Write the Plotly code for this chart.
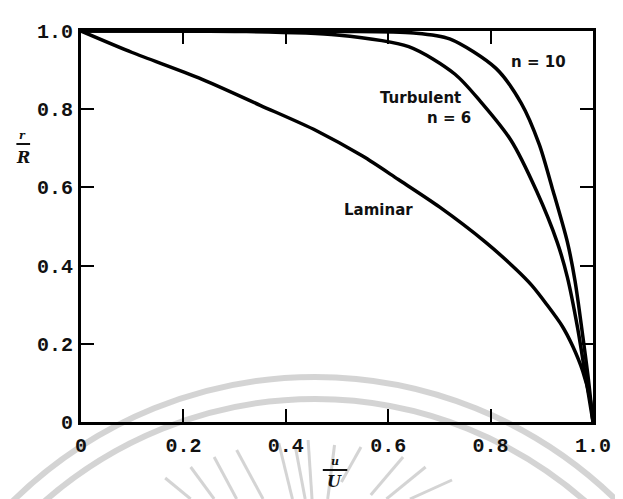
import plotly.graph_objects as go

# ---- data (u/U, r/R) ----
lam_u = [0.0, 0.1, 0.23, 0.35, 0.46, 0.55, 0.62, 0.70, 0.79, 0.85, 0.88, 0.91, 0.94, 0.96, 0.98, 0.995, 1.0]
lam_r = [1.0, 0.945, 0.88, 0.81, 0.745, 0.68, 0.62, 0.55, 0.46, 0.39, 0.35, 0.30, 0.245, 0.195, 0.13, 0.055, 0.0]

n6_u = [0.0, 0.3, 0.5, 0.64, 0.73, 0.78, 0.84, 0.89, 0.93, 0.95, 0.97, 0.985, 1.0]
n6_r = [1.0, 0.999, 0.99, 0.96, 0.89, 0.82, 0.72, 0.59, 0.46, 0.37, 0.24, 0.12, 0.0]

n10_u = [0.0, 0.5, 0.65, 0.72, 0.81, 0.86, 0.895, 0.92, 0.95, 0.965, 0.98, 0.99, 1.0]
n10_r = [1.0, 0.999, 0.995, 0.98, 0.905, 0.815, 0.71, 0.60, 0.46, 0.36, 0.22, 0.12, 0.0]

tick_vals = [0, 0.2, 0.4, 0.6, 0.8, 1.0]
x_tick_text = ["0", "0.2", "0.4", "0.6", "0.8", "1.0"]
y_tick_text = ["0", "0.2", "0.4", "0.6", "0.8", "1.0"]

# ---- layout geometry (pixels; page body has an 8px default margin) ----
OFF = 8
W, H = 623 - OFF, 499 - OFF
L, R_, T, B = 81 - OFF, 19, 31 - OFF, 77
PW = W - L - R_
PH = H - T - B


def px(x):
    return (x - OFF - L) / PW


def py(y):
    return (H + OFF - B - y) / PH


fig = go.Figure()
line_style = dict(color="black", width=3.5, shape="spline", smoothing=0.8)
for u, r, name in [(lam_u, lam_r, "Laminar"), (n6_u, n6_r, "n = 6"), (n10_u, n10_r, "n = 10")]:
    fig.add_trace(go.Scatter(x=u, y=r, mode="lines", line=line_style, name=name,
                             showlegend=False, hoverinfo="skip"))

tick_font = dict(family="Liberation Mono", size=20, color="#111", weight="bold")
axis_common = dict(range=[0, 1.0], showgrid=False, zeroline=False, showline=True,
                   linecolor="black", linewidth=3, mirror="ticks", ticks="inside",
                   ticklen=13, tickwidth=2, tickcolor="black", tickvals=tick_vals,
                   tickfont=tick_font)
fig.update_xaxes(**axis_common, ticktext=x_tick_text, ticklabelstandoff=3)
fig.update_yaxes(**axis_common, ticktext=y_tick_text, ticklabelstandoff=1)

label_font = dict(family="DejaVu Sans", size=15, color="#111", weight="bold")
annotations = [
    dict(x=0.893, y=0.921, text="n = 10"),
    dict(x=0.663, y=0.829, text="Turbulent"),
    dict(x=0.719, y=0.777, text="n = 6"),
    dict(x=0.581, y=0.542, text="Laminar"),
]
ann = []
for a in annotations:
    ann.append(dict(x=a["x"], y=a["y"], xref="x", yref="y", text=a["text"],
                    showarrow=False, font=label_font, xanchor="center", yanchor="middle"))

title_font_small = dict(family="DejaVu Serif", size=11, color="#111", weight="bold")
title_font_big = dict(family="DejaVu Serif", size=16, color="#111", weight="bold")
ann += [
    dict(x=px(21), y=py(135), xref="paper", yref="paper", text="<i>r</i>", showarrow=False,
         font=title_font_small, xanchor="center", yanchor="middle"),
    dict(x=px(22), y=py(157), xref="paper", yref="paper", text="<i>R</i>", showarrow=False,
         font=title_font_big, xanchor="center", yanchor="middle"),
    dict(x=px(340), y=py(461), xref="paper", yref="paper", text="<i>u</i>", showarrow=False,
         font=title_font_small, xanchor="center", yanchor="middle"),
    dict(x=px(340), y=py(481), xref="paper", yref="paper", text="<i>U</i>", showarrow=False,
         font=title_font_big, xanchor="center", yanchor="middle"),
]

shapes = [
    dict(type="line", xref="paper", yref="paper", x0=px(15), x1=px(29), y0=py(144), y1=py(144),
         line=dict(color="#111", width=2)),
    dict(type="line", xref="paper", yref="paper", x0=px(328), x1=px(353), y0=py(470), y1=py(470),
         line=dict(color="#111", width=2)),
]

# faint watermark arcs and rays from the scan
wm = "rgba(160,160,160,0.45)"
cx, cy = 320, 823
for rad in (446, 424):
    shapes.append(dict(type="circle", xref="paper", yref="paper", layer="below",
                       x0=px(cx - rad), x1=px(cx + rad), y0=py(cy + rad), y1=py(cy - rad),
                       line=dict(color=wm, width=6)))
rays = [((167, 478), (193, 499)), ((193, 467), (217, 499)), ((217, 457), (240, 499)),
        ((240, 450), (267, 499)), ((283, 443), (297, 499)), ((313, 440), (317, 499)),
        ((300, 447), (310, 499)), ((367, 447), (347, 482)), ((410, 457), (377, 495)),
        ((433, 467), (393, 499)), ((460, 480), (417, 499)), ((340, 445), (333, 499))]
for (x0, y0), (x1, y1) in rays:
    shapes.append(dict(type="line", xref="paper", yref="paper", layer="below",
                       x0=px(x0), x1=px(x1), y0=py(y0), y1=py(y1),
                       line=dict(color=wm, width=3)))

fig.update_layout(width=W, height=H, margin=dict(l=L, r=R_, t=T, b=B),
                  plot_bgcolor="white", paper_bgcolor="white",
                  annotations=ann, shapes=shapes, showlegend=False)

fig.write_html("out.html")
